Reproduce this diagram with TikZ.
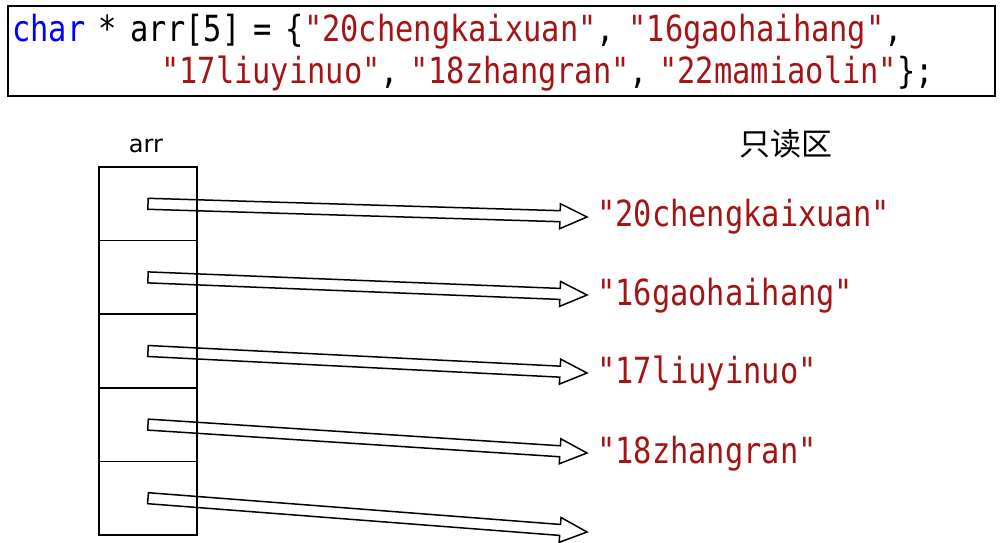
\documentclass[tikz,border=0pt]{standalone}
\usepackage{fontspec}
\usetikzlibrary{calc}
\newfontfamily\codefont[FakeStretch=0.844]{DejaVu Sans Mono}
\newfontfamily\cjkfont{Noto Sans CJK SC}
\newfontfamily\labelfont{DejaVu Sans}
\definecolor{kwblue}{RGB}{0,0,255}
\definecolor{strred}{RGB}{163,21,21}
\newcommand\codegap{\hspace{11.3pt}}
\newcommand\codegapwide{\hspace{13.5pt}}
\pgfdeclarelayer{bg}
\pgfsetlayers{bg,main}
\tikzset{
  codetext/.style={font=\codefont\fontsize{36}{40}\selectfont, inner sep=0pt, anchor=base west},
  strtext/.style={codetext, text=strred},
  cell/.style={draw, line width=1.6pt, minimum width=98pt, minimum height=73.6pt, inner sep=0pt},
  blockarrow/.style={draw, line width=1.5pt, fill=white, line join=miter},
  codebox/.style={draw, line width=2pt, minimum width=987pt, minimum height=90pt, inner sep=0pt},
}
\newcommand\hollowblockarrow[2]{%
  \coordinate (h) at ($(#2)!27pt!(#1)$);
  \path[blockarrow] ($(#1)!5.5pt!90:(#2)$) -- ($(h)!5.5pt!90:(#2)$) -- ($(h)!12.5pt!90:(#2)$)
    -- (#2) -- ($(h)!12.5pt!-90:(#2)$) -- ($(h)!5.5pt!-90:(#2)$) -- ($(#1)!5.5pt!-90:(#2)$) -- cycle;
}
\begin{document}
\begin{tikzpicture}[x=1pt,y=-1pt]
\useasboundingbox (0,0) rectangle (1001,543);
% code box
\node[codebox] (codebox) at (501.5,51) {};
\node[codetext] (line1) at (12,42) {\textcolor{kwblue}{char}\codegapwide*\codegapwide arr[5]\codegapwide=\codegapwide\{\textcolor{strred}{"20chengkaixuan"},\codegapwide\textcolor{strred}{"16gaohaihang"},};
\node[codetext] (line2) at (161,84) {\textcolor{strred}{"17liuyinuo"},\codegap\textcolor{strred}{"18zhangran"},\codegap\textcolor{strred}{"22mamiaolin"}\};};
% labels
\node[font=\labelfont\fontsize{24}{28}\selectfont, anchor=base, inner sep=0pt] (arrlabel) at (146,152) {arr};
\node[font=\cjkfont\fontsize{31}{35}\selectfont, inner sep=0pt] (readonly) at (786,144) {只读区};
% array cells
\node[cell] (c1) at (148,203.8) {};
\node[cell] (c2) at (148,277.4) {};
\node[cell] (c3) at (148,351.0) {};
\node[cell] (c4) at (148,424.6) {};
\node[cell] (c5) at (148,498.2) {};
% strings
\node[strtext] (s1) at (597,226) {"20chengkaixuan"};
\node[strtext] (s2) at (597,305) {"16gaohaihang"};
\node[strtext] (s3) at (597,383) {"17liuyinuo"};
\node[strtext] (s4) at (597,463) {"18zhangran"};
% arrow tips
\coordinate (t1) at (587,217);
\coordinate (t2) at (587,295);
\coordinate (t3) at (587,373);
\coordinate (t4) at (587,453);
\coordinate (t5) at (587,532);
\begin{pgfonlayer}{bg}
\hollowblockarrow{c1.center}{t1}
\hollowblockarrow{c2.center}{t2}
\hollowblockarrow{c3.center}{t3}
\hollowblockarrow{c4.center}{t4}
\hollowblockarrow{c5.center}{t5}
\end{pgfonlayer}
\end{tikzpicture}
\end{document}
